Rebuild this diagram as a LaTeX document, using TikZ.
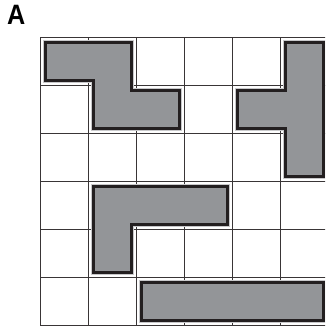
\documentclass[tikz,border=0pt]{standalone}
\usepackage{fontspec}
\setmainfont{Liberation Sans}
\definecolor{piecefill}{HTML}{939598}
\definecolor{pieceline}{HTML}{231F20}
\definecolor{halo}{HTML}{C8C8CA}
\tikzset{
  gridline/.style={draw=pieceline!90, line width=1.4pt},
  piecehalo/.style={draw=halo, line width=4.6pt, line join=miter},
  piece/.style={fill=piecefill, draw=pieceline, line width=2.6pt, line join=miter},
}
\begin{document}
\begin{tikzpicture}[x=1pt,y=-1pt]
\useasboundingbox (0,0) rectangle (325,326);
\fill[white] (0,0) rectangle (325,326);
\begin{scope}
\clip (0,0) rectangle (325,326);
\foreach \i in {0,...,6} {
  \draw[gridline] ({40.5+48*\i},37.5) -- ({40.5+48*\i},325.5);
  \draw[gridline] (40.5,{37.5+48*\i}) -- (328.5,{37.5+48*\i});
}
\foreach \p in {
  {(45.5,42.5) -- (131.5,42.5) -- (131.5,90.5) -- (179.5,90.5) -- (179.5,128.5) -- (93.5,128.5) -- (93.5,80.5) -- (45.5,80.5) -- cycle},
  {(285.5,42.5) -- (323.5,42.5) -- (323.5,176.5) -- (285.5,176.5) -- (285.5,128.5) -- (237.5,128.5) -- (237.5,90.5) -- (285.5,90.5) -- cycle},
  {(93.5,186.5) -- (227.5,186.5) -- (227.5,224.5) -- (131.5,224.5) -- (131.5,272.5) -- (93.5,272.5) -- cycle},
  {(141.5,282.5) -- (323.5,282.5) -- (323.5,320.5) -- (141.5,320.5) -- cycle}
} {
  \draw[piecehalo] \p;
  \draw[piece] \p;
}
\end{scope}
\node[font=\bfseries\fontsize{28}{28}\selectfont, inner sep=0pt, anchor=base west, xscale=0.9] (label) at (7,25) {A};
\end{tikzpicture}
\end{document}
